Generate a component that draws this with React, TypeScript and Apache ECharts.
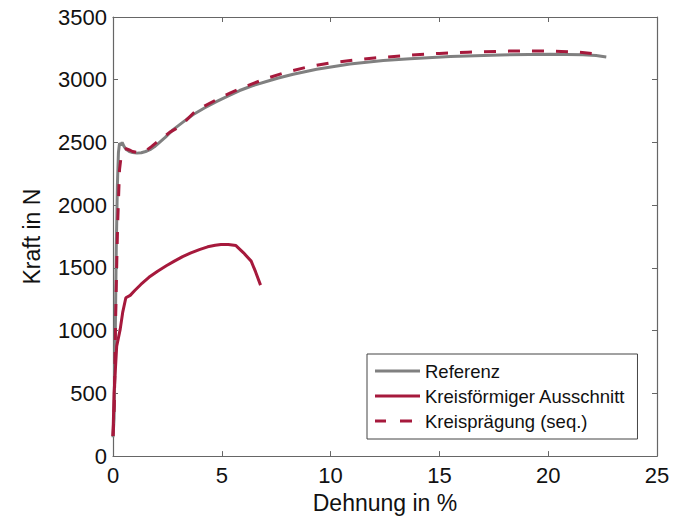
import React, { useEffect, useRef } from "react";
import * as echarts from "echarts";

const xTicks = { min: 0, max: 25, interval: 5 };
const yTicks = { min: 0, max: 3500, interval: 500 };

const seriesNames = ["Referenz", "Kreisförmiger Ausschnitt", "Kreisprägung (seq.)"];

const referenz: [number, number][] = [
  [0, 150], [0.05, 300], [0.1, 900], [0.15, 1650], [0.2, 2150], [0.25, 2420], [0.3, 2495],
  [0.36, 2478], [0.42, 2500], [0.5, 2470], [0.6, 2445], [0.75, 2428], [0.9, 2420], [1.1, 2415],
  [1.3, 2418], [1.5, 2428], [1.7, 2442], [1.9, 2465], [2.1, 2495], [2.4, 2540], [2.75, 2600],
  [3.2, 2660], [3.67, 2721], [4.2, 2775], [4.75, 2826], [5.3, 2872], [5.82, 2914], [6.4, 2952],
  [7.05, 2986], [7.6, 3014], [8.28, 3044], [9.36, 3084], [10.89, 3126], [12.42, 3153],
  [13.65, 3168], [15.5, 3185], [17.8, 3198], [20.1, 3203], [21.6, 3200], [22.2, 3193], [22.67, 3182],
];

const ausschnitt: [number, number][] = [
  [0, 160], [0.05, 507], [0.17, 877], [0.33, 1010], [0.45, 1150], [0.59, 1262], [0.79, 1281],
  [1.0, 1320], [1.28, 1368], [1.65, 1425], [2.05, 1474], [2.45, 1517], [2.82, 1554], [3.2, 1590],
  [3.58, 1620], [4.0, 1648], [4.35, 1668], [4.7, 1680], [4.96, 1686], [5.3, 1686], [5.65, 1678],
  [6.0, 1620], [6.35, 1554], [6.55, 1470], [6.78, 1363],
];

const praegung: [number, number][] = [
  [0, 160], [0.06, 400], [0.12, 1090], [0.18, 1600], [0.22, 1885], [0.3, 2283], [0.36, 2370],
  [0.42, 2415], [0.5, 2440], [0.6, 2450], [0.75, 2440], [0.9, 2428], [1.1, 2420], [1.3, 2420],
  [1.5, 2432], [1.75, 2465], [2.0, 2500], [2.3, 2540], [2.6, 2580], [2.9, 2610], [3.3, 2665],
  [3.7, 2735], [4.2, 2790], [4.8, 2845], [5.4, 2895], [6, 2940], [7, 3008], [8, 3062], [9, 3104],
  [10, 3135], [11, 3155], [12, 3173], [13.6, 3195], [15, 3210], [16.3, 3220], [18.2, 3228],
  [19.5, 3229], [20.6, 3226], [21.4, 3220], [22, 3210],
];

const FONT = "'Liberation Sans', Arial, sans-serif";
const GRAY = "#808080";
const RED = "#A6193C";
const AXIS = "#666666";

const SOLID_ICON = "path://M0,0H45V3H0Z";
const DASH_ICON = "path://M0,0H11V3H0Z M25,0H37V3H25Z M44.95,0H45V3H44.95Z";

export default function App() {
  const ref = useRef<HTMLDivElement>(null);
  useEffect(() => {
    if (!ref.current) return;
    const chart = echarts.init(ref.current, undefined, { renderer: "svg" });
    const axisCommon = {
      axisLine: { show: true, onZero: false, lineStyle: { color: AXIS, width: 1.2 } },
      axisTick: { show: true, inside: true, length: 5, lineStyle: { color: AXIS } },
      splitLine: { show: false },
    };
    chart.setOption({
      animation: false,
      textStyle: { fontFamily: FONT },
      grid: { left: 113, right: 20, top: 17, bottom: 62 },
      legend: {
        orient: "vertical",
        left: 367,
        top: 354,
        data: [
          { name: seriesNames[0], icon: SOLID_ICON },
          { name: seriesNames[1], icon: SOLID_ICON },
          { name: seriesNames[2], icon: DASH_ICON },
        ],
        itemWidth: 45,
        itemHeight: 3,
        itemGap: 5,
        padding: [7, 12, 8, 8],
        borderColor: "#444",
        borderWidth: 1,
        backgroundColor: "#fff",
        textStyle: { fontFamily: FONT, fontSize: 18.5, color: "#111", lineHeight: 20 },
      },
      xAxis: [
        {
          type: "value",
          ...xTicks,
          position: "bottom",
          ...axisCommon,
          name: "Dehnung in %",
          nameLocation: "middle",
          nameGap: 27,
          nameTextStyle: { fontFamily: FONT, fontSize: 23, color: "#111" },
          axisLabel: { fontFamily: FONT, fontSize: 22, color: "#111", margin: 8 },
        },
        {
          type: "value",
          ...xTicks,
          position: "top",
          ...axisCommon,
          axisLabel: { show: false },
        },
      ],
      yAxis: [
        {
          type: "value",
          ...yTicks,
          position: "left",
          ...axisCommon,
          name: "Kraft in N",
          nameLocation: "middle",
          nameGap: 70,
          nameTextStyle: { fontFamily: FONT, fontSize: 23, color: "#111" },
          axisLabel: {
            fontFamily: FONT,
            fontSize: 22,
            color: "#111",
            margin: 6,
            formatter: (v: number) => String(v),
          },
        },
        {
          type: "value",
          ...yTicks,
          position: "right",
          ...axisCommon,
          axisLabel: { show: false },
        },
      ],
      series: [
        {
          name: seriesNames[0],
          type: "line",
          data: referenz,
          showSymbol: false,
          symbol: "none",
          lineStyle: { color: GRAY, width: 3 },
          itemStyle: { color: GRAY },
          z: 2,
        },
        {
          name: seriesNames[1],
          type: "line",
          data: ausschnitt,
          showSymbol: false,
          symbol: "none",
          lineStyle: { color: RED, width: 3 },
          itemStyle: { color: RED },
          z: 4,
        },
        {
          name: seriesNames[2],
          type: "line",
          data: praegung,
          showSymbol: false,
          symbol: "none",
          lineStyle: { color: RED, width: 3, type: [12, 12] },
          itemStyle: { color: RED },
          z: 3,
        },
      ],
    });
    return () => chart.dispose();
  }, []);
  return <div ref={ref} style={{ width: 677, height: 519, position: "absolute", left: 0, top: 0 }} />;
}
